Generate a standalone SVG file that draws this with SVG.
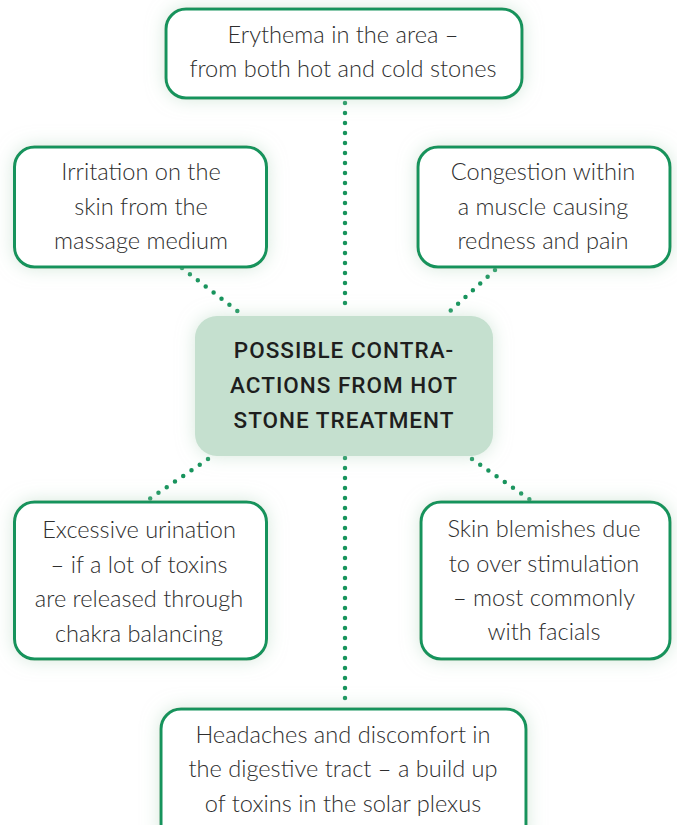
<svg xmlns="http://www.w3.org/2000/svg" width="677" height="825" viewBox="0 0 677 825">
<defs>
<filter id="sh" x="-20%" y="-30%" width="140%" height="160%">
<feGaussianBlur in="SourceAlpha" stdDeviation="9" result="b"/>
<feFlood flood-color="#b5d6c0" flood-opacity="0.55"/>
<feComposite operator="in" in2="b" result="s"/>
<feMerge><feMergeNode in="s"/><feMergeNode in="SourceGraphic"/></feMerge>
</filter>
</defs>
<style>
.box{fill:#fff;stroke:#17935c;stroke-width:3}
.center{fill:#c5e0cf}
.t{font-family:Lato,"Liberation Sans",sans-serif;font-weight:300;font-size:23.6px;fill:#2e2e2e;text-anchor:middle}
.h{font-family:Roboto,"Liberation Sans",sans-serif;font-weight:500;font-size:22.5px;fill:#1e1e1e;text-anchor:middle;letter-spacing:1px}
.dot{fill:none;stroke:#17935c;stroke-width:4.5;stroke-linecap:round;stroke-dasharray:0 10}
</style>
<rect width="677" height="825" fill="#fff"/>
<g id="connectors">
<line class="dot" x1="345" y1="103" x2="345" y2="313"/>
<line class="dot" x1="345" y1="458" x2="345" y2="705"/>
<line class="dot" x1="182" y1="268" x2="240" y2="313"/>
<line class="dot" x1="495" y1="270" x2="448" y2="313"/>
<line class="dot" x1="208" y1="459" x2="148" y2="500"/>
<line class="dot" x1="472" y1="459" x2="532" y2="501"/>
</g>
<g id="n-center">
<rect class="center" x="195" y="316" width="298" height="140" rx="22" filter="url(#sh)"/>
<text class="h" x="344" y="358">POSSIBLE CONTRA-</text>
<text class="h" x="344" y="393">ACTIONS FROM HOT</text>
<text class="h" x="344" y="428">STONE TREATMENT</text>
</g>
<g id="n-top">
<rect class="box" x="166" y="9" width="356" height="89" rx="20" filter="url(#sh)"/>
<text class="t" x="343" y="43">Erythema in the area –</text>
<text class="t" x="343" y="77">from both hot and cold stones</text>
</g>
<g id="n-upper-left">
<rect class="box" x="14.5" y="147" width="252" height="120" rx="20" filter="url(#sh)"/>
<text class="t" x="141" y="180">Irritation on the</text>
<text class="t" x="141" y="215">skin from the</text>
<text class="t" x="141" y="249">massage medium</text>
</g>
<g id="n-upper-right">
<rect class="box" x="418" y="147" width="252" height="120" rx="20" filter="url(#sh)"/>
<text class="t" x="543" y="180">Congestion within</text>
<text class="t" x="543" y="215">a muscle causing</text>
<text class="t" x="543" y="249">redness and pain</text>
</g>
<g id="n-lower-left">
<rect class="box" x="14.5" y="502" width="252" height="157" rx="20" filter="url(#sh)"/>
<text class="t" x="139" y="538">Excessive urination</text>
<text class="t" x="139" y="573">– if a lot of toxins</text>
<text class="t" x="139" y="607">are released through</text>
<text class="t" x="139" y="642">chakra balancing</text>
</g>
<g id="n-lower-right">
<rect class="box" x="421" y="502" width="249" height="157" rx="20" filter="url(#sh)"/>
<text class="t" x="544" y="537">Skin blemishes due</text>
<text class="t" x="544" y="572">to over stimulation</text>
<text class="t" x="544" y="606">– most commonly</text>
<text class="t" x="544" y="640">with facials</text>
</g>
<g id="n-bottom">
<rect class="box" x="161" y="709" width="365" height="140" rx="20" filter="url(#sh)"/>
<text class="t" x="343" y="743">Headaches and discomfort in</text>
<text class="t" x="343" y="777">the digestive tract – a build up</text>
<text class="t" x="343" y="812">of toxins in the solar plexus</text>
</g>
</svg>
